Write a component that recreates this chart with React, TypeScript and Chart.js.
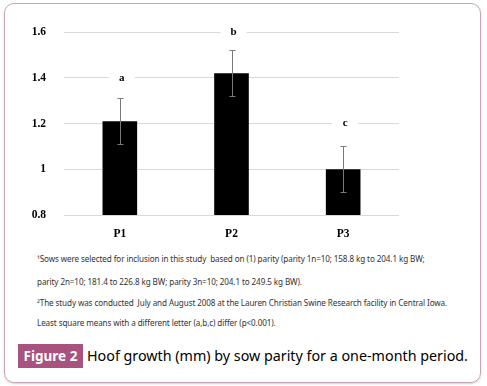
import React, { useEffect, useRef } from "react";
import { Chart, registerables } from "chart.js";

Chart.register(...registerables);

const categories = ["P1", "P2", "P3"];
const means = [1.21, 1.42, 1.0];
const errLow = [1.11, 1.32, 0.9];
const errHigh = [1.31, 1.52, 1.1];
const letters = ["a", "b", "c"];
const letterLevels = [1.4, 1.6, 1.2];
const yTicks = [0.8, 1.0, 1.2, 1.4, 1.6];
const footnotes = [
  "\u00b9Sows were selected for inclusion in this study  based on (1) parity (parity 1n=10; 158.8 kg to 204.1 kg BW;",
  "parity 2n=10; 181.4 to 226.8 kg BW; parity 3n=10; 204.1 to 249.5 kg BW).",
  "\u00b2The study was conducted  July and August 2008 at the Lauren Christian Swine Research facility in Central Iowa.",
  "Least square means with a different letter (a,b,c) differ (p<0.001).",
];
const figureLabel = "Figure 2";
const caption = "Hoof growth (mm) by sow parity for a one-month period.";

const serif = "'Liberation Serif', 'Times New Roman', serif";

const annotPlugin = {
  id: "annot",
  afterDatasetsDraw(chart: any) {
    const { ctx } = chart;
    const xs = chart.scales.x;
    const ys = chart.scales.y;
    ctx.save();
    ctx.strokeStyle = "#7a7a7a";
    ctx.lineWidth = 1;
    for (let i = 0; i < categories.length; i++) {
      const x = Math.round(xs.getPixelForValue(i)) + 0.5;
      const y1 = ys.getPixelForValue(errLow[i]);
      const y2 = ys.getPixelForValue(errHigh[i]);
      ctx.beginPath();
      ctx.moveTo(x, y1);
      ctx.lineTo(x, y2);
      ctx.moveTo(x - 3, Math.round(y1) + 0.5);
      ctx.lineTo(x + 3, Math.round(y1) + 0.5);
      ctx.moveTo(x - 3, Math.round(y2) + 0.5);
      ctx.lineTo(x + 3, Math.round(y2) + 0.5);
      ctx.stroke();
    }
    ctx.font = `bold 11px ${serif}`;
    ctx.textAlign = "center";
    ctx.textBaseline = "middle";
    for (let i = 0; i < categories.length; i++) {
      const x = xs.getPixelForValue(i) + 2;
      const y = ys.getPixelForValue(letterLevels[i]);
      ctx.fillStyle = "#ffffff";
      ctx.fillRect(x - 13, y - 5, 26, 10);
      ctx.fillStyle = "#000000";
      ctx.fillText(letters[i], x, y);
    }
    ctx.restore();
  },
};

export default function App() {
  const ref = useRef<HTMLCanvasElement>(null);
  useEffect(() => {
    document.body.style.margin = "0";
    const chart = new Chart(ref.current!, {
      type: "bar",
      data: {
        labels: categories,
        datasets: [
          {
            data: means,
            backgroundColor: "#000000",
            borderWidth: 0,
            categoryPercentage: 1,
            barPercentage: 0.31,
          },
        ],
      },
      options: {
        responsive: false,
        animation: false,
        devicePixelRatio: 1,
        layout: { padding: { left: 0, right: 88, top: 32, bottom: 0 } },
        plugins: { legend: { display: false }, tooltip: { enabled: false } },
        scales: {
          x: {
            grid: { display: false },
            border: { display: false },
            ticks: {
              color: "#000",
              font: { family: serif, size: 11.5, weight: "bold" },
              padding: 4,
            },
            afterFit(s: any) {
              s.height = 23;
            },
          },
          y: {
            min: 0.8,
            max: 1.6,
            grid: { color: "#d9d9d9", lineWidth: 1, drawTicks: false },
            border: { display: false },
            afterBuildTicks(s: any) {
              s.ticks = yTicks.map((v) => ({ value: v }));
            },
            ticks: {
              color: "#000",
              font: { family: serif, size: 11.5, weight: "bold" },
              padding: 18,
              callback: (v: any) => (Math.abs(v - 1) < 1e-9 ? "1" : Number(v).toFixed(1)),
            },
            afterFit(s: any) {
              s.width = 64;
            },
          },
        },
      },
      plugins: [annotPlugin],
    });
    return () => chart.destroy();
  }, []);

  return (
    <div
      style={{
        position: "absolute",
        left: 0,
        top: 0,
        width: 487,
        height: 386,
        background: "#fff",
        overflow: "hidden",
      }}
    >
      <div
        style={{
          position: "absolute",
          left: 4,
          top: 3,
          width: 475,
          height: 378,
          border: "1.5px solid #c9a3b7",
          borderRadius: 10,
          boxShadow: "0 1px 2px rgba(150,110,130,0.35)",
        }}
      />
      <canvas
        ref={ref}
        width={487}
        height={240}
        style={{ position: "absolute", left: 0, top: 0, width: 487, height: 240 }}
      />
      {footnotes.map((t, i) => (
        <div
          key={i}
          style={{
            position: "absolute",
            left: 37,
            top: [253, 276, 297, 317][i],
            fontFamily: "'Noto Sans', sans-serif",
            fontSize: 8.1,
            color: "#333",
            whiteSpace: "pre",
            lineHeight: "12px",
            letterSpacing: -0.1,
          }}
        >
          {t}
        </div>
      ))}
      <div
        style={{
          position: "absolute",
          left: 18,
          top: 344,
          width: 65,
          height: 24,
          background: "#a8527f",
          color: "#fff",
          fontFamily: "'Noto Sans', sans-serif",
          fontWeight: "bold",
          fontSize: 13.5,
          lineHeight: "24px",
          textAlign: "center",
        }}
      >
        {figureLabel}
      </div>
      <div
        style={{
          position: "absolute",
          left: 87,
          top: 344,
          fontFamily: "'Noto Sans', sans-serif",
          fontSize: 14.3,
          lineHeight: "24px",
          color: "#000",
          whiteSpace: "pre",
        }}
      >
        {caption}
      </div>
    </div>
  );
}
